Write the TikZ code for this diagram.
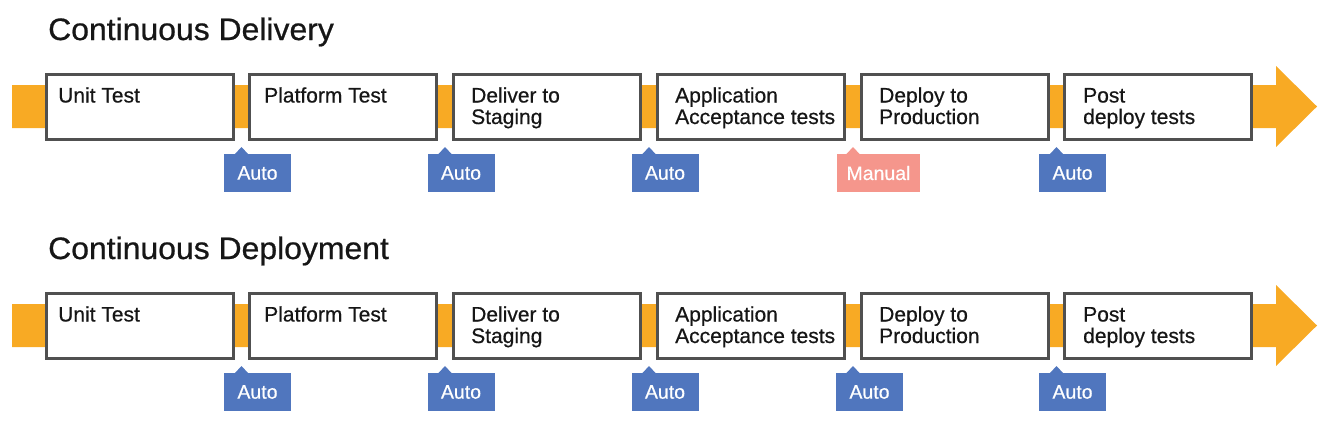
\documentclass[tikz,border=0pt]{standalone}
\usepackage{fontspec}
\setmainfont{Liberation Sans}
\newfontfamily\medfont[FakeBold=0.5]{Liberation Sans}
\newfontfamily\titlefont[FakeBold=0.7,FakeStretch=1.03]{Liberation Sans}
\definecolor{barorange}{RGB}{248,170,36}
\definecolor{tagblue}{RGB}{80,118,190}
\definecolor{tagsalmon}{RGB}{245,150,140}
\definecolor{boxgray}{RGB}{80,80,80}
\definecolor{inkblack}{RGB}{22,22,22}
\tikzset{
  stagebox/.style={draw=boxgray, line width=3pt, fill=white, minimum width=187pt, minimum height=65pt, inner sep=0pt},
  stagetext/.style={anchor=base west, inner sep=0pt, text=inkblack, font=\medfont\fontsize{21}{21.5}\selectfont},
  titletext/.style={anchor=base west, inner sep=0pt, text=inkblack, font=\titlefont\fontsize{31}{34}\selectfont},
  tagbox/.style={minimum height=38pt, inner sep=0pt, text=white, font=\medfont\fontsize{19.5}{20}\selectfont},
}
\begin{document}
\begin{tikzpicture}[x=1pt,y=-1pt]
\useasboundingbox (0,0) rectangle (1321,424);
\foreach \r/\dy/\ttl in {1/0/Continuous Delivery, 2/219/Continuous Deployment} {
  \node[titletext] (title\r) at (48,40+\dy) {\ttl};
  % arrow bar
  \fill[barorange] (12,85+\dy) -- (1276,85+\dy) -- (1276,66+\dy) -- (1317,106.5+\dy) -- (1276,147+\dy) -- (1276,128+\dy) -- (12,128+\dy) -- cycle;
  % stage boxes
  \foreach \i/\lx/\tx/\txt in {1/45/58/{Unit Test}, 2/248/264/{Platform Test}, 3/452/471/{Deliver to\\Staging}, 4/656/675/{Application\\Acceptance tests}, 5/860/879/{Deploy to\\Production}, 6/1063/1083/{Post\\deploy tests}} {
    \node[stagebox] (box\r\i) at (\lx+95,107+\dy) {};
    \node[stagetext] (txt\r\i) at (\tx,102.5+\dy) {\parbox[t]{175pt}{\raggedright\txt}};
  }
}
% tags
\foreach \r/\dy/\g/\lab/\col/\w/\off in {
  1/0/241.5/Auto/tagblue/67/17.5, 1/0/445/Auto/tagblue/67/17.5, 1/0/649/Auto/tagblue/67/17.5, 1/0/853/Manual/tagsalmon/83/16, 1/0/1056.5/Auto/tagblue/67/17.5,
  2/219/241.5/Auto/tagblue/67/17.5, 2/219/445/Auto/tagblue/67/17.5, 2/219/649/Auto/tagblue/67/17.5, 2/219/853/Auto/tagblue/67/17, 2/219/1056.5/Auto/tagblue/67/17.5} {
  \node[tagbox, fill=\col, minimum width=\w pt] (tag\r-\g) at (\g-\off+\w/2,173+\dy) {\lab};
  \fill[\col] (\g-7,154.5+\dy) -- (\g,147+\dy) -- (\g+7,154.5+\dy) -- cycle;
}
\end{tikzpicture}
\end{document}
